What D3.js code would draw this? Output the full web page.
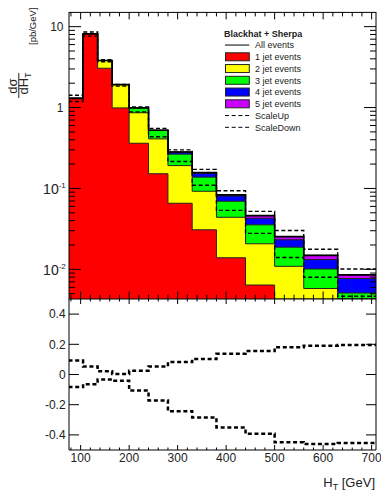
<!DOCTYPE html>
<html><head><meta charset="utf-8">
<script src="https://cdn.jsdelivr.net/npm/d3@7"></script>
<style>body{margin:0;background:#fff}svg{display:block;font-family:"Liberation Sans",Arial,sans-serif}</style>
</head><body>
<svg id="c" width="381" height="491"></svg>
<script>
// ---------- data ----------
const binEdges = [75,105,135,165,200,240,280,330,380,440,500,560,630,710];
const jet1 = [1.30, 8.15, 3.06, 0.99, 0.362, 0.152, 0.0656, 0.0308, 0.0139, 0.0064, 0.0030, 0.0015, 0.0008];
const jet2 = [0, 0, 0.75, 0.93, 0.50, 0.258, 0.126, 0.0615, 0.0301, 0.0143, 0.0079, 0.0043, 0.0027];
const jet3 = [0, 0, 0, 0, 0.128, 0.110, 0.074, 0.0457, 0.0255, 0.0148, 0.0079, 0.0043, 0.0016];
const jet4 = [0, 0, 0, 0, 0, 0.005, 0.0154, 0.016, 0.0111, 0.0073, 0.0044, 0.0031, 0.0026];
const jet5 = [0, 0, 0, 0, 0, 0, 0.001, 0.003, 0.0027, 0.0034, 0.0022, 0.0017, 0.0009];
const allEvents = [1.30, 8.15, 3.81, 1.92, 0.99, 0.525, 0.282, 0.157, 0.0833, 0.0462, 0.0254, 0.0149, 0.00855];
const scaleUp   = [1.42, 8.58, 3.89, 1.93, 1.02, 0.553, 0.300, 0.172, 0.0935, 0.052, 0.0302, 0.0177, 0.0101];
const scaleDown = [1.19, 7.63, 3.68, 1.84, 0.885, 0.435, 0.215, 0.1095, 0.0535, 0.0278, 0.0140, 0.0080, 0.00465];
const ratioUp   = [0.092, 0.053, 0.022, 0.003, 0.025, 0.053, 0.082, 0.102, 0.137, 0.155, 0.181, 0.190, 0.195];
const ratioDown = [-0.083, -0.064, -0.033, -0.042, -0.106, -0.172, -0.243, -0.285, -0.351, -0.393, -0.448, -0.461, -0.454];
const xTicks = [100,200,300,400,500,600,700];
const yTopTicks = [10, 1, 0.1, 0.01];
const yTopLabels = [["10",""],["1",""],["10","-1"],["10","-2"]];
const ratioTicks = [0.4, 0.2, 0, -0.2, -0.4];
const ratioLabels = ["0.4","0.2","0","-0.2","-0.4"];
const jetLabels = ["1 jet events","2 jet events","3 jet events","4 jet events","5 jet events"];
const jetColors = ["#ff0000","#ffff00","#00ff00","#0000ff","#cc00ff"];
const legendTitle = "Blackhat + Sherpa";

// ---------- layout ----------
const L = 69, R = 376, T = 12.4, M = 299, B = 450;
const svg = d3.select("#c");
const x = d3.scaleLinear().domain([76, 709]).range([L, R]);
const y = d3.scaleLog().domain([0.0043, 15]).range([M, T]).clamp(true);
const yr = d3.scaleLinear().domain([-0.5, 0.5]).range([B, M]);
const yv = v => y(Math.max(v, 1e-5));

const defs = svg.append("defs");
defs.append("clipPath").attr("id","cTop").append("rect").attr("x",L).attr("y",T).attr("width",R-L).attr("height",M-T);
defs.append("clipPath").attr("id","cBot").append("rect").attr("x",L).attr("y",M).attr("width",R-L).attr("height",B-M);

function stepLine(vals, ys){
  let d = `M${x(binEdges[0])},${ys(vals[0])}`;
  vals.forEach((v,i)=>{
    if(i>0) d += `V${ys(v)}`;
    d += `H${x(binEdges[i+1])}`;
  });
  return d;
}
function stepArea(vals, ys, base){
  return `M${x(binEdges[0])},${base}V${ys(vals[0])}` + stepLine(vals, ys).replace(/^M[^H]*/, "") + `V${base}Z`;
}

// ---------- top panel ----------
const gTop = svg.append("g").attr("clip-path","url(#cTop)");
const jets = [jet1, jet2, jet3, jet4, jet5];
const cum = [];
jets.forEach((arr,k)=>{ cum.push(arr.map((v,i)=> v + (k>0 ? cum[k-1][i] : 0))); });
for(let k = 4; k >= 0; k--){
  gTop.append("path").attr("d", stepArea(cum[k], yv, M+2)).attr("fill", jetColors[k]).attr("stroke","none");
  gTop.append("path").attr("d", stepLine(cum[k], yv)).attr("fill","none").attr("stroke","#222").attr("stroke-width",1);
}
gTop.append("path").attr("d", stepLine(allEvents, yv)).attr("fill","none").attr("stroke","#000").attr("stroke-width",1.6);
[scaleUp, scaleDown].forEach(arr=>{
  gTop.append("path").attr("d", stepLine(arr, yv)).attr("fill","none").attr("stroke","#000")
    .attr("stroke-width",1.4).attr("stroke-dasharray","4,2.5");
});

// ---------- ratio panel ----------
const gBot = svg.append("g").attr("clip-path","url(#cBot)");
[ratioUp, ratioDown].forEach(arr=>{
  gBot.append("path").attr("d", stepLine(arr, yr)).attr("fill","none").attr("stroke","#000")
    .attr("stroke-width",2.5).attr("stroke-dasharray","4,2.7");
});

// ---------- frames & ticks ----------
const ax = svg.append("g").attr("stroke","#000").attr("stroke-width",1).attr("fill","none");
ax.append("rect").attr("x",L).attr("y",T).attr("width",R-L).attr("height",M-T);
ax.append("path").attr("d",`M${L},${M}V${B}H${R}V${M}`);
const minorX = d3.range(80, 709, 20);
function xt(yEdge, dir, maj, mn){
  minorX.forEach(v=>{
    const len = (v % 100 === 0) ? maj : mn;
    ax.append("line").attr("x1",x(v)).attr("x2",x(v)).attr("y1",yEdge).attr("y2",yEdge+dir*len);
  });
}
xt(T, 1, 7, 4); xt(M, -1, 7.5, 4.3); xt(M, 1, 5, 2.5); xt(B, -1, 5, 2.5);
const logMinor = [];
[0.001,0.01,0.1,1,10].forEach(d=>{ for(let m=2;m<=9;m++){ const v=m*d; if(v>0.0043 && v<15) logMinor.push(v);} });
[[L,1],[R,-1]].forEach(([xe,dir])=>{
  yTopTicks.forEach(v=> ax.append("line").attr("x1",xe).attr("x2",xe+dir*12).attr("y1",y(v)).attr("y2",y(v)));
  logMinor.forEach(v=> ax.append("line").attr("x1",xe).attr("x2",xe+dir*6).attr("y1",y(v)).attr("y2",y(v)));
  ratioTicks.forEach(v=> ax.append("line").attr("x1",xe).attr("x2",xe+dir*10).attr("y1",yr(v)).attr("y2",yr(v)));
});

// ---------- labels ----------
const txt = svg.append("g").attr("fill","#222");
xTicks.forEach(v=> txt.append("text").attr("x",x(v)).attr("y",461.7).attr("text-anchor","middle").attr("font-size",12).text(v));
ratioTicks.forEach((v,i)=> txt.append("text").attr("x",65.6).attr("y",yr(v)+4.2).attr("text-anchor","end").attr("font-size",12).text(ratioLabels[i]));
yTopTicks.forEach((v,i)=>{
  const [base, sup] = yTopLabels[i];
  if(!sup){
    txt.append("text").attr("x",63.5).attr("y",y(v)+4.4).attr("text-anchor","end").attr("font-size",12).text(base);
  } else {
    const t = txt.append("text").attr("x",65.8).attr("y",y(v)+6).attr("text-anchor","end").attr("font-size",14);
    t.append("tspan").text(base);
    t.append("tspan").attr("font-size",8).attr("dy",-6).text(sup);
  }
});
const xtit = txt.append("text").attr("x",375).attr("y",486.5).attr("text-anchor","end").attr("font-size",13);
xtit.append("tspan").text("H");
xtit.append("tspan").attr("font-size",9).attr("dy",3).text("T");
xtit.append("tspan").attr("dy",-3).text(" [GeV]");
const yt = txt.append("g").attr("transform","rotate(-90)");
yt.append("text").attr("x",-45).attr("y",36).attr("font-size",9.5).text("[pb/GeV]");
yt.append("text").attr("x",-86).attr("y",16.5).attr("text-anchor","middle").attr("font-size",13).text("dσ");
yt.append("line").attr("x1",-98).attr("x2",-73).attr("y1",18.8).attr("y2",18.8).attr("stroke","#222").attr("stroke-width",1);
const den = yt.append("text").attr("x",-83.5).attr("y",28).attr("text-anchor","middle").attr("font-size",13);
den.append("tspan").text("dH");
den.append("tspan").attr("font-size",9).attr("dy",3).text("T");

// ---------- legend ----------
const lg = svg.append("g");
const rowY = d3.range(9).map(i => 33.3 + i*11.75);
lg.append("text").attr("x",224).attr("y",rowY[0]+3.2).attr("font-size",9).attr("font-weight","bold").attr("fill","#222").text(legendTitle);
lg.append("line").attr("x1",225).attr("x2",249.3).attr("y1",rowY[1]).attr("y2",rowY[1]).attr("stroke","#000").attr("stroke-width",1);
lg.append("text").attr("x",255).attr("y",rowY[1]+3.2).attr("font-size",9).attr("fill","#222").text("All events");
jetLabels.forEach((lab,i)=>{
  const cy = rowY[i+2];
  lg.append("rect").attr("x",225.5).attr("y",cy-4).attr("width",23.8).attr("height",8).attr("fill",jetColors[i]).attr("stroke","#222").attr("stroke-width",1);
  lg.append("text").attr("x",255).attr("y",cy+3.2).attr("font-size",9).attr("fill","#222").text(lab);
});
["ScaleUp","ScaleDown"].forEach((lab,i)=>{
  const cy = rowY[7+i];
  lg.append("line").attr("x1",225).attr("x2",249.3).attr("y1",cy).attr("y2",cy).attr("stroke","#000").attr("stroke-width",1).attr("stroke-dasharray","4,2.7");
  lg.append("text").attr("x",255).attr("y",cy+3.2).attr("font-size",9).attr("fill","#222").text(lab);
});
</script>
</body></html>
